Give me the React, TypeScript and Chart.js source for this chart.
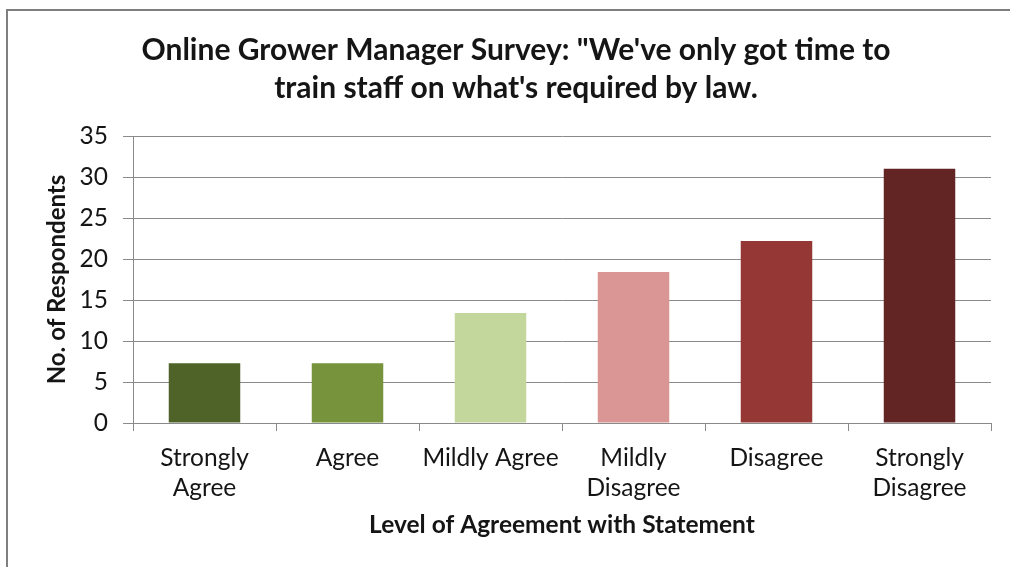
import React, { useEffect, useRef } from "react";
import { Chart, registerables } from "chart.js";

Chart.register(...registerables);

const categories: (string | string[])[] = [
  ["Strongly", "Agree"],
  "Agree",
  "Mildly Agree",
  ["Mildly", "Disagree"],
  "Disagree",
  ["Strongly", "Disagree"],
];
const respondents: number[] = [7.3, 7.3, 13.4, 18.4, 22.2, 31];
const barColors: string[] = ["#4F6228", "#77933C", "#C3D69B", "#D99694", "#953735", "#632523"];
const titleLines: string[] = [
  'Online Grower Manager Survey: "We\'ve only got time to',
  "train staff on what's required by law.",
];
const xTitle = "Level of Agreement with Statement";
const yTitle = "No. of Respondents";
const yMin = 0;
const yMax = 35;
const yStep = 5;

const FONT = "Lato, 'Open Sans', sans-serif";
const GRID = "#8a8a8a";
const TEXT = "#151515";

const frame = {
  id: "frame",
  beforeDraw(chart: any) {
    const ctx = chart.ctx;
    ctx.save();
    ctx.fillStyle = "#ffffff";
    ctx.fillRect(0, 0, chart.width, chart.height);
    ctx.strokeStyle = "#7f7f7f";
    ctx.lineWidth = 2;
    ctx.beginPath();
    ctx.moveTo(7, chart.height + 5);
    ctx.lineTo(7, 10);
    ctx.lineTo(chart.width + 5, 10);
    ctx.stroke();
    ctx.restore();
  },
};

export default function App() {
  const ref = useRef<HTMLCanvasElement | null>(null);

  useEffect(() => {
    if (!ref.current) return;
    const chart = new Chart(ref.current, {
      type: "bar",
      data: {
        labels: categories,
        datasets: [
          {
            data: respondents,
            backgroundColor: barColors,
            borderWidth: 0,
            barPercentage: 0.5,
            categoryPercentage: 1,
          },
        ],
      },
      plugins: [frame],
      options: {
        animation: false,
        responsive: false,
        maintainAspectRatio: false,
        layout: { padding: { left: 41, right: 19, top: 0, bottom: 0 } },
        plugins: {
          legend: { display: false },
          tooltip: { enabled: false },
          title: {
            display: true,
            text: titleLines,
            color: TEXT,
            font: { family: FONT, size: 30, weight: "bold", lineHeight: 38 / 30 },
            padding: { top: 31, bottom: 29 },
          },
        },
        scales: {
          x: {
            grid: {
              display: true,
              drawOnChartArea: false,
              drawTicks: true,
              tickLength: 8,
              color: GRID,
              offset: true,
            },
            border: { display: true, color: GRID, width: 1 },
            ticks: {
              color: TEXT,
              font: { family: FONT, size: 24.5, lineHeight: 30 / 24.5 },
              padding: 12,
              maxRotation: 0,
              autoSkip: false,
            },
            title: {
              display: true,
              text: xTitle,
              color: TEXT,
              font: { family: FONT, size: 24.5, weight: "bold", lineHeight: 1.2 },
              padding: { top: 0, bottom: 27 },
            },
            afterFit: (scale: any) => {
              scale.height = 567 - 423;
            },
          },
          y: {
            min: yMin,
            max: yMax,
            grid: {
              color: GRID,
              lineWidth: 1,
              tickLength: 10,
              drawTicks: true,
            },
            border: { display: true, color: GRID, width: 1 },
            ticks: {
              stepSize: yStep,
              color: TEXT,
              font: { family: FONT, size: 24.5 },
              padding: 15,
            },
            title: {
              display: true,
              text: yTitle,
              color: TEXT,
              font: { family: FONT, size: 24, weight: "bold", lineHeight: 1.2 },
              padding: { top: 2, bottom: 0 },
            },
            afterFit: (scale: any) => {
              scale.width = 133 - 41;
            },
          },
        },
      },
    });
    return () => chart.destroy();
  }, []);

  return (
    <div
      style={{
        position: "fixed",
        left: 0,
        top: 0,
        width: 1010,
        height: 567,
        background: "#ffffff",
        overflow: "hidden",
      }}
    >
      <canvas
        ref={ref}
        width={1010}
        height={567}
        style={{ display: "block", width: 1010, height: 567 }}
      />
    </div>
  );
}
